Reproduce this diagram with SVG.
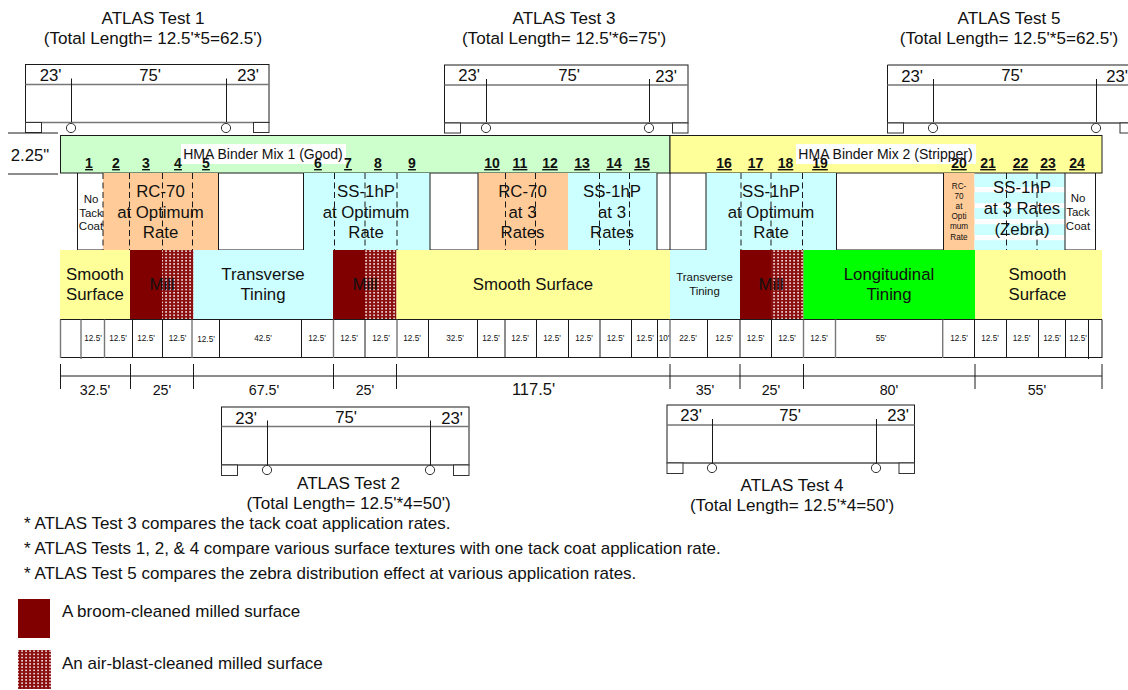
<svg xmlns="http://www.w3.org/2000/svg" width="1128" height="690" viewBox="0 0 1128 690">
<style>
text{font-family:"Liberation Sans",Arial,sans-serif;fill:#111;text-anchor:middle}
.l{stroke:#1a1a1a;stroke-width:1;fill:none}
.g{stroke:#777;stroke-width:1.4;fill:none}
.d{stroke:#1a1a1a;stroke-width:1;stroke-dasharray:6 3.5;fill:none}
.t{stroke:#333;stroke-width:1;fill:#fff}
.m{font-size:16.8px}
.s{font-size:8.2px}
.n{font-size:14px;font-weight:bold;text-decoration:underline}
.h{font-size:14px}
.ti{font-size:17.1px}
.a{font-size:16.7px}
.dm{font-size:14.3px}
.no{font-size:17px;text-anchor:start}
.tk{font-size:11.5px}
.cy{fill:#ccffff}.or{fill:#ffcc99}.ye{fill:#ffff99}.gr{fill:#ccffcc}.dr{fill:#800000}.pt{fill:url(#dots)}
</style>
<defs>
<pattern id="dots" width="4" height="3.2" patternUnits="userSpaceOnUse">
<rect width="4" height="3.2" fill="#8a1010"/>
<rect x="1.2" y="0.8" width="1.8" height="1.5" fill="#f0d8d8"/>
</pattern>
</defs>

<g id="truck-1">
<rect class="l" x="25.5" y="64.5" width="243.5" height="58"/>
<path class="g" d="M25.5 84.5H269M25.5 122.5H269"/>
<path class="l" d="M71.5 78.5V122M226.5 78.5V122"/>
<circle class="t" cx="71" cy="128" r="4.6"/><circle class="t" cx="226" cy="128" r="4.6"/>
<rect class="t" x="25.5" y="122.5" width="16" height="10"/><rect class="t" x="253.5" y="122.5" width="15.5" height="10"/>
<text class="ti" x="153" y="24">ATLAS Test 1</text><text class="ti" x="153" y="44">(Total Length= 12.5'*5=62.5')</text>
<text class="a" x="50.5" y="81">23'</text><text class="a" x="150" y="81">75'</text><text class="a" x="248" y="81">23'</text>
</g>
<g id="truck-3">
<rect class="l" x="444.5" y="65" width="243.5" height="58"/>
<path class="g" d="M444.5 85H688M444.5 123H688"/>
<path class="l" d="M486.5 79V122M649.5 79V122"/>
<circle class="t" cx="486" cy="128" r="4.6"/><circle class="t" cx="649" cy="128" r="4.6"/>
<rect class="t" x="444.5" y="123" width="16" height="10"/><rect class="t" x="672.5" y="123" width="15.5" height="10"/>
<text class="ti" x="564" y="24">ATLAS Test 3</text><text class="ti" x="564" y="44">(Total Length= 12.5'*6=75')</text>
<text class="a" x="469" y="81">23'</text><text class="a" x="569" y="81">75'</text><text class="a" x="666" y="82">23'</text>
</g>
<g id="truck-5">
<path class="l" d="M1128 65H887.5V123H1128"/>
<path class="g" d="M887.5 85H1128M887.5 123H1128"/>
<path class="l" d="M933.5 79V122M1096.5 79V122"/>
<circle class="t" cx="933" cy="128" r="4.6"/><circle class="t" cx="1096" cy="128" r="4.6"/>
<rect class="t" x="887.5" y="123" width="16" height="10"/><rect class="t" x="1120" y="123" width="12" height="10"/>
<text class="ti" x="1009" y="24">ATLAS Test 5</text><text class="ti" x="1009" y="44">(Total Length= 12.5'*5=62.5')</text>
<text class="a" x="912" y="82">23'</text><text class="a" x="1012" y="81">75'</text><text class="a" x="1117" y="82">23'</text>
</g>

<g id="layer-hma">
<rect x="60.5" y="135.5" width="609.5" height="37.5" class="gr" stroke="#1a1a1a"/>
<rect x="670" y="135.5" width="432" height="37.5" class="ye" stroke="#1a1a1a"/>
<path class="l" d="M8 133H58M8 174H58"/>
<text x="30" y="161" class="a">2.25"</text>
<rect x="181" y="144" width="165" height="20" fill="#fff"/>
<rect x="796" y="144" width="180" height="20" fill="#fff"/>
<text class="h" x="263" y="159">HMA Binder Mix 1 (Good)</text>
<text class="h" x="885.5" y="159">HMA Binder Mix 2 (Stripper)</text>
</g>

<g id="layer-tack">
<rect x="103" y="173" width="115.5" height="77" class="or"/>
<rect x="304" y="173" width="126" height="77" class="cy"/>
<rect x="478" y="173" width="90" height="77" class="or"/>
<rect x="568" y="173" width="89" height="77" class="cy"/>
<rect x="706" y="173" width="130" height="77" class="cy"/>
<rect x="943.5" y="173" width="31" height="77" class="or"/>
<path class="cy" d="M974.5 174H1065V187H974.5ZM974.5 192.3H1065V203.3H974.5ZM974.5 208H1065V219H974.5ZM974.5 224.3H1065V235H974.5ZM974.5 240.3H1065V250H974.5Z"/>
<path class="l" d="M77.5 173V250H103M218.5 173V250H303.5V173M430 173V250H478V173M657 173V250H706V173M670 173V250M836.5 173V250H943.5V173M1065 173V250H1095.5V173"/>
<path class="d" d="M103 173V250M129.5 173V250M162.5 173V250M192.5 173V250M334.5 173V250M365 173V250M397 173V250M505.5 173V250M535.5 173V250M599.5 173V250M629.5 173V250M741 173V250M771 173V250M802.5 173V250M1006.5 173V250M1037 173V250"/>
</g>

<g id="layer-surface">
<rect x="60" y="250" width="70" height="69.5" class="ye"/>
<rect x="130" y="250" width="32" height="69.5" class="dr"/>
<rect x="162" y="250" width="31.5" height="69.5" class="pt"/>
<rect x="193.5" y="250" width="139.5" height="69.5" class="cy"/>
<rect x="333" y="250" width="32" height="69.5" class="dr"/>
<rect x="365" y="250" width="31.5" height="69.5" class="pt"/>
<rect x="396.5" y="250" width="273.5" height="69.5" class="ye"/>
<rect x="670" y="250" width="70" height="69.5" class="cy"/>
<rect x="740" y="250" width="31" height="69.5" class="dr"/>
<rect x="771" y="250" width="32.5" height="69.5" class="pt"/>
<rect x="803.5" y="250" width="171.5" height="69.5" fill="#00ff00"/>
<rect x="975" y="250" width="127" height="69.5" class="ye"/>
</g>

<g id="layer-cells">
<path class="l" d="M60 319.5H1102M60 357.5H1102"/>
<path class="g" d="M60.5 319.5V358M81 319.5V359M104.5 319.5V358M192 319.5V358M333.5 319.5V358M397 319.5V358M670 319.5V358M803.5 319.5V358M835.5 319.5V358M942.7 319.5V358"/>
<path class="l" d="M132.5 319.5V358M162.5 319.5V358M219.5 319.5V358M301.5 319.5V358M365 319.5V358M428.5 319.5V358M477.5 319.5V358M505 319.5V358M536.5 319.5V358M568.5 319.5V358M600 319.5V358M631.5 319.5V358M657.5 319.5V358M707.5 319.5V358M740 319.5V358M771.5 319.5V358M974.5 319.5V358M1006.5 319.5V358M1038.5 319.5V358M1065.5 319.5V358M1088.5 319.5V359M1102 319.5V358"/>
<g>
<text class="s" x="93" y="341">12.5'</text><text class="s" x="118" y="341">12.5'</text><text class="s" x="146" y="341">12.5'</text><text class="s" x="177.5" y="341">12.5'</text><text class="s" x="206" y="342">12.5'</text><text class="s" x="263" y="341">42.5'</text><text class="s" x="317" y="341">12.5'</text><text class="s" x="349" y="341">12.5'</text><text class="s" x="381" y="341">12.5'</text><text class="s" x="412" y="341">12.5'</text><text class="s" x="455" y="341">32.5'</text><text class="s" x="491" y="341">12.5'</text><text class="s" x="520" y="341">12.5'</text><text class="s" x="552" y="341">12.5'</text><text class="s" x="584" y="341">12.5'</text><text class="s" x="615.5" y="341">12.5'</text><text class="s" x="645" y="341">12.5'</text><text class="s" x="664" y="341">10'</text><text class="s" x="688" y="341">22.5'</text><text class="s" x="724" y="341">12.5'</text><text class="s" x="755.5" y="341">12.5'</text><text class="s" x="787" y="341">12.5'</text><text class="s" x="819" y="341">12.5'</text><text class="s" x="881" y="341">55'</text><text class="s" x="959" y="341">12.5'</text><text class="s" x="990" y="341">12.5'</text><text class="s" x="1021.5" y="341">12.5'</text><text class="s" x="1052" y="341">12.5'</text><text class="s" x="1078" y="341">12.5'</text>
</g>
</g>

<g id="layer-dimensions">
<path class="l" d="M60 376H1102M60.5 364V389M130.5 364V389M193.5 364V389M333.5 364V389M396.5 364V389M670 364V389M740 364V389M803.5 364V389M975 364V389M1102 364V389"/>
<text class="dm" x="95" y="395">32.5'</text><text class="dm" x="162" y="395">25'</text><text class="dm" x="264" y="395">67.5'</text><text class="dm" x="365" y="395">25'</text><text x="533.5" y="395" font-size="16.5">117.5'</text><text class="dm" x="705" y="395">35'</text><text class="dm" x="771" y="395">25'</text><text class="dm" x="889" y="395">80'</text><text class="dm" x="1037" y="395">55'</text>
</g>

<g id="labels-sections">
<text class="n" x="89" y="168">1</text><text class="n" x="116" y="168">2</text><text class="n" x="146" y="168">3</text><text class="n" x="178" y="168">4</text><text class="n" x="206" y="168">5</text><text class="n" x="318" y="168">6</text><text class="n" x="348" y="168">7</text><text class="n" x="378" y="168">8</text><text class="n" x="412" y="168">9</text><text class="n" x="492" y="168">10</text><text class="n" x="520" y="168">11</text><text class="n" x="550" y="168">12</text><text class="n" x="582" y="168">13</text><text class="n" x="614" y="168">14</text><text class="n" x="642" y="168">15</text><text class="n" x="724" y="168">16</text><text class="n" x="755.5" y="168">17</text><text class="n" x="785.5" y="168">18</text><text class="n" x="820" y="168">19</text><text class="n" x="959" y="168">20</text><text class="n" x="988" y="168">21</text><text class="n" x="1020.5" y="168">22</text><text class="n" x="1048" y="168">23</text><text class="n" x="1077" y="168">24</text>
</g>

<g id="labels-tack">
<text class="tk" x="91" y="203">No</text><text class="tk" x="91" y="217">Tack</text><text class="tk" x="91" y="230">Coat</text>
<text class="m" x="160.5" y="197">RC-70</text><text class="m" x="160.5" y="218">at Optimum</text><text class="m" x="160.5" y="238">Rate</text>
<text class="m" x="366" y="197">SS-1hP</text><text class="m" x="366" y="218">at Optimum</text><text class="m" x="366" y="238">Rate</text>
<text class="m" x="522.5" y="197">RC-70</text><text class="m" x="522.5" y="218">at 3</text><text class="m" x="522.5" y="238">Rates</text>
<text class="m" x="612" y="197">SS-1hP</text><text class="m" x="612" y="218">at 3</text><text class="m" x="612" y="238">Rates</text>
<text class="m" x="771" y="197">SS-1hP</text><text class="m" x="771" y="218">at Optimum</text><text class="m" x="771" y="238">Rate</text>
<text class="s" x="959" y="189">RC-</text><text class="s" x="959" y="199">70</text><text class="s" x="959" y="209">at</text><text class="s" x="959" y="219">Opti</text><text class="s" x="959" y="229">mum</text><text class="s" x="959" y="240">Rate</text>
<text class="m" x="1022" y="193">SS-1hP</text><text class="m" x="1022" y="214">at 3 Rates</text><text class="m" x="1022" y="235">(Zebra)</text>
<text class="tk" x="1078" y="202">No</text><text class="tk" x="1078" y="216">Tack</text><text class="tk" x="1078" y="230">Coat</text>
</g>

<g id="labels-surface">
<text class="m" x="95" y="280">Smooth</text><text class="m" x="95" y="300">Surface</text>
<text class="m" x="162" y="290">Mill</text>
<text class="m" x="263" y="280">Transverse</text><text class="m" x="263" y="300">Tining</text>
<text class="m" x="365" y="290">Mill</text>
<text class="m" x="533" y="290">Smooth Surface</text>
<text x="704.5" y="281" font-size="11.4">Transverse</text><text x="704.5" y="295" font-size="11.4">Tining</text>
<text class="m" x="771" y="290">Mill</text>
<text class="m" x="889" y="280">Longitudinal</text><text class="m" x="889" y="300">Tining</text>
<text class="m" x="1037.5" y="280">Smooth</text><text class="m" x="1037.5" y="300">Surface</text>
</g>

<g id="truck-2">
<rect class="l" x="221.5" y="407" width="247.5" height="58"/>
<path class="g" d="M221.5 426.5H469M221.5 465H469"/>
<path class="l" d="M267.5 420.5V465M430.5 420.5V465"/>
<circle class="t" cx="267" cy="470" r="4.6"/><circle class="t" cx="430" cy="470" r="4.6"/>
<rect class="t" x="221.5" y="465" width="16" height="10.5"/><rect class="t" x="453.5" y="465" width="15.5" height="10.5"/>
<text class="a" x="246" y="424">23'</text><text class="a" x="346" y="423">75'</text><text class="a" x="452" y="424">23'</text>
<text class="ti" x="348.5" y="489">ATLAS Test 2</text><text class="ti" x="348.5" y="509">(Total Length= 12.5'*4=50')</text>
</g>
<g id="truck-4">
<rect class="l" x="667" y="405" width="247.5" height="58"/>
<path class="g" d="M667 425H914.5M667 463H914.5"/>
<path class="l" d="M712.5 419V463M876.5 419V463"/>
<circle class="t" cx="712" cy="468" r="4.6"/><circle class="t" cx="876" cy="468" r="4.6"/>
<rect class="t" x="667" y="463" width="16" height="10.5"/><rect class="t" x="899" y="463" width="15.5" height="10.5"/>
<text class="a" x="691" y="421">23'</text><text class="a" x="790" y="421">75'</text><text class="a" x="898" y="421">23'</text>
<text class="ti" x="792" y="491">ATLAS Test 4</text><text class="ti" x="792" y="511">(Total Length= 12.5'*4=50')</text>
</g>

<g id="notes">
<text class="no" x="24" y="528.5">* ATLAS Test 3 compares the tack coat application rates.</text>
<text class="no" x="24" y="553.5">* ATLAS Tests 1, 2, &amp; 4 compare various surface textures with one tack coat application rate.</text>
<text class="no" x="24" y="578.5">* ATLAS Test 5 compares the zebra distribution effect at various application rates.</text>
</g>
<g id="legend-broom">
<rect x="18" y="599" width="32" height="39" class="dr"/>
<text class="no" x="62" y="616.5">A broom-cleaned milled surface</text>
</g>
<g id="legend-air">
<rect x="18" y="650" width="33" height="39" class="pt"/>
<text class="no" x="62" y="669">An air-blast-cleaned milled surface</text>
</g>
</svg>
